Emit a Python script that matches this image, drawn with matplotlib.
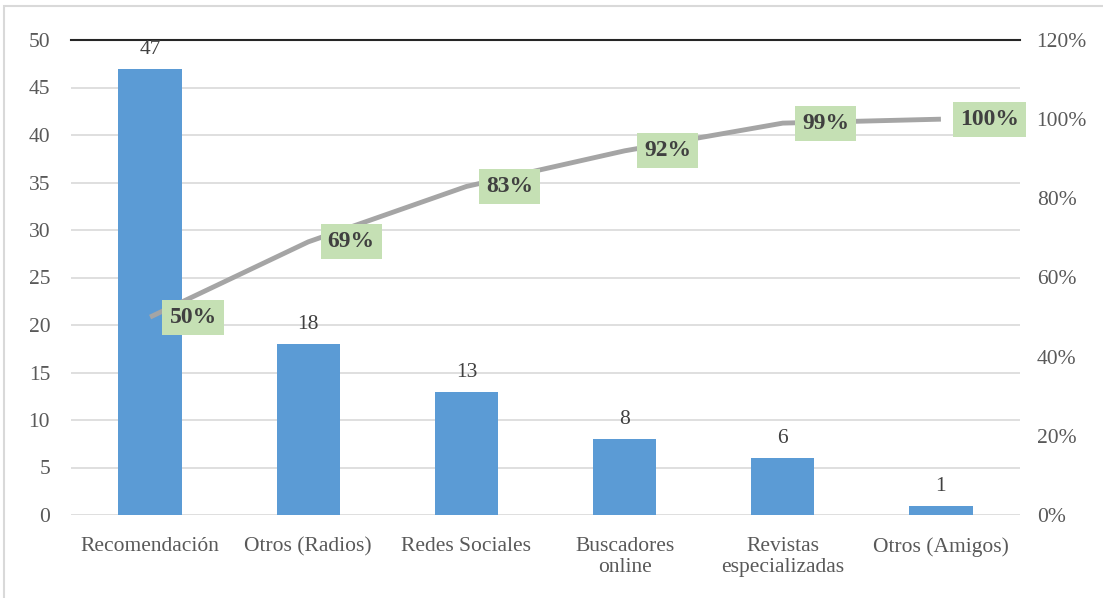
import numpy as np
import matplotlib
matplotlib.use('Agg')
import matplotlib.pyplot as plt
from matplotlib.patches import Rectangle
from matplotlib.ticker import FuncFormatter

plt.rcParams['font.family'] = ['Liberation Serif', 'DejaVu Serif']

# data
categories = ['Recomendación', 'Otros (Radios)', 'Redes Sociales', 'Buscadores\nonline',
              'Revistas\nespecializadas', 'Otros (Amigos)']
counts = [47, 18, 13, 8, 6, 1]
cum_pct = [50, 69, 83, 92, 99, 100]

TXT = '#404040'
TICK = '#595959'
FS = 15.5

fig = plt.figure(figsize = (11.03, 5.98), dpi = 100)
ax = fig.add_axes([71 / 1103, 83 / 598, 949 / 1103, 475 / 598])

x = np.arange(len(categories))
ax.bar(x, counts, width = 0.4, color = '#5B9BD5', zorder = 2)
for xi, c in zip(x, counts):
    ax.annotate(str(c), xy = (xi, c), xytext = (0, 7), textcoords = 'offset points',
        ha = 'center', va = 'bottom', fontsize = FS, color = TXT, zorder = 6)

ax.set_xlim(-0.5, len(categories) - 0.5)
ax.set_ylim(0, 50)
ax.set_yticks(np.arange(0, 51, 5))
ax.yaxis.grid(True, color = '#D9D9D9', lw = 1.2, zorder = 0)
ax.axhline(50, color = '#262626', lw = 1.5, zorder = 3, clip_on = False)
ax.set_xticks(x)
ax.set_xticklabels(categories, fontsize = FS, color = TICK, linespacing = 1.15)
ax.tick_params(axis = 'both', length = 0, labelsize = FS, labelcolor = TICK)
ax.tick_params(axis = 'y', pad = 15)
ax.tick_params(axis = 'x', pad = 16)
for s in ax.spines.values():
    s.set_visible(False)

ax2 = ax.twinx()
ax2.set_ylim(0, 120)
ax2.set_yticks(np.arange(0, 121, 20))
ax2.yaxis.set_major_formatter(FuncFormatter(lambda v, p: '%d%%' % v))
ax2.tick_params(axis = 'y', length = 0, labelsize = FS, labelcolor = TICK, pad = 12)
for s in ax2.spines.values():
    s.set_visible(False)

ax2.plot(x, cum_pct, color = '#A5A5A5', lw = 3.5, zorder = 4, solid_capstyle = 'butt')
for xi, p in zip(x, cum_pct):
    ax2.annotate('%d%%' % p, xy = (xi, p), xytext = (14, 0), textcoords = 'offset points',
        ha = 'left', va = 'center', fontsize = 17, fontweight = 'bold', color = TXT, zorder = 5,
        bbox = dict(boxstyle = 'square,pad=0.3', facecolor = '#C5E0B4', edgecolor = 'none'))

# outer chart frame
fig.patches.append(Rectangle((4 / 1103, -0.05), 1.1, 1.05 - 6 / 598, transform = fig.transFigure,
    fill = False, edgecolor = '#D9D9D9', lw = 1.5))

plt.savefig('out.png', dpi = 100)
